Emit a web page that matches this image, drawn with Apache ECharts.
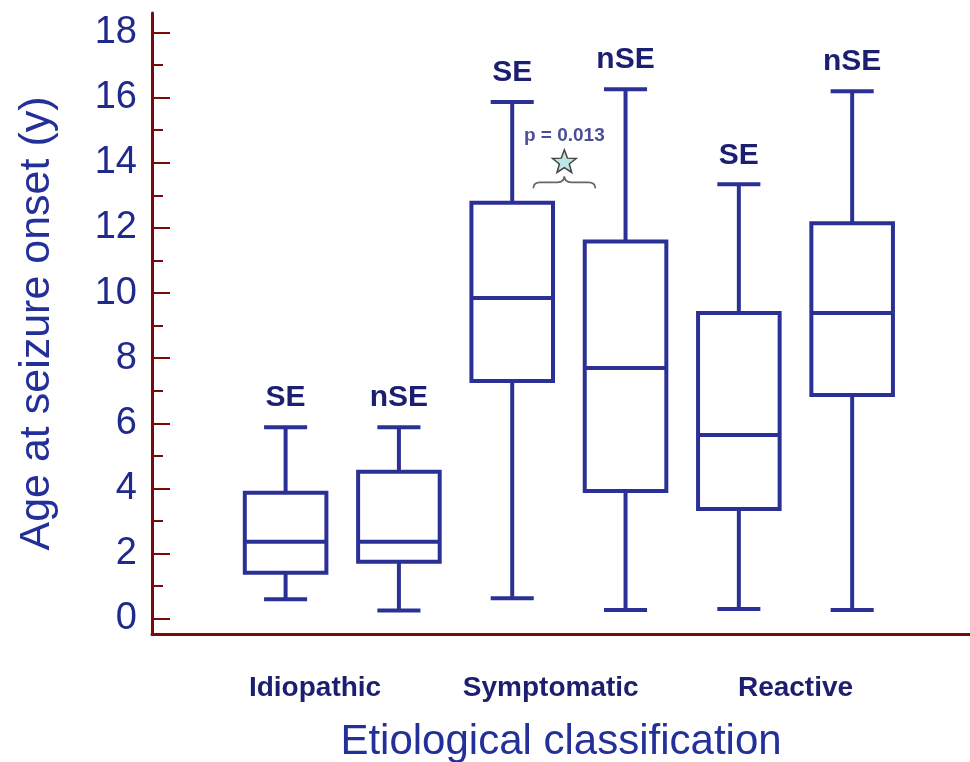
<!DOCTYPE html>
<html>
<head>
<meta charset="utf-8">
<script src="https://cdn.jsdelivr.net/npm/echarts@6/dist/echarts.min.js"></script>
<style>
  html, body { margin: 0; padding: 0; background: #fff; }
  #chart { width: 970px; height: 762px; }
</style>
</head>
<body>
<div id="chart"></div>
<script>
// data
const groups = ['Idiopathic', 'Symptomatic', 'Reactive'];
const groupLabelPos = [0.26, 2.34, 4.5];
const boxLabels = ['SE', 'nSE', 'SE', 'nSE', 'SE', 'nSE'];
const whiskerLow = [0.6, 0.25, 0.63, 0.27, 0.3, 0.27];
const q1 = [1.41, 1.75, 7.3, 3.92, 3.37, 6.87];
const median = [2.36, 2.36, 9.85, 7.7, 5.64, 9.39];
const q3 = [3.87, 4.51, 12.77, 11.58, 9.39, 12.14];
const whiskerHigh = [5.88, 5.88, 15.87, 16.26, 13.34, 16.2];
const majorTicks = [0, 2, 4, 6, 8, 10, 12, 14, 16, 18];
const minorTicks = [1, 3, 5, 7, 9, 11, 13, 15, 17];
// significance note between Symptomatic SE / nSE
const pText = 'p = 0.013';
const notePos = [2.46, 13.4];

const boxColor = '#2b3194';
const textColor = '#1f2a8c';
const axisColor = '#7a0a0a';
const fontFam = '"Liberation Sans", Arial, sans-serif';

const chart = echarts.init(document.getElementById('chart'));

const boxData = boxLabels.map((lab, i) =>
  [i, whiskerLow[i], q1[i], median[i], q3[i], whiskerHigh[i], lab]);

function renderBox(params, api) {
  const i = api.value(0);
  const lo = api.coord([i, api.value(1)]);
  const b1 = api.coord([i, api.value(2)]);
  const md = api.coord([i, api.value(3)]);
  const b3 = api.coord([i, api.value(4)]);
  const hi = api.coord([i, api.value(5)]);
  const band = api.size([1, 0])[0];
  const bw = band * 0.72, cw = band * 0.38;
  const x = lo[0];
  const st = { stroke: boxColor, lineWidth: 4, fill: null };
  return {
    type: 'group',
    children: [
      { type: 'rect', shape: { x: x - bw / 2, y: b3[1], width: bw, height: b1[1] - b3[1] }, style: st },
      { type: 'line', shape: { x1: x - bw / 2, y1: md[1], x2: x + bw / 2, y2: md[1] }, style: st },
      { type: 'line', shape: { x1: x, y1: b3[1], x2: x, y2: hi[1] }, style: st },
      { type: 'line', shape: { x1: x - cw / 2, y1: hi[1], x2: x + cw / 2, y2: hi[1] }, style: st },
      { type: 'line', shape: { x1: x, y1: b1[1], x2: x, y2: lo[1] }, style: st },
      { type: 'line', shape: { x1: x - cw / 2, y1: lo[1], x2: x + cw / 2, y2: lo[1] }, style: st },
      {
        type: 'text',
        style: {
          text: api.value(6), x: x, y: hi[1] - 14,
          align: 'center', verticalAlign: 'bottom',
          fontSize: 30, fontWeight: 'bold', fontFamily: fontFam, fill: '#1c1f70'
        }
      }
    ]
  };
}

function renderNote(params, api) {
  const p = api.coord([api.value(0), api.value(1)]);
  const cx = p[0], y = p[1];
  const w = 31;
  // star
  const pts = [];
  for (let k = 0; k < 10; k++) {
    const r = k % 2 === 0 ? 12.5 : 5.2;
    const a = -Math.PI / 2 + k * Math.PI / 5;
    pts.push([cx + r * Math.cos(a), y - 20 + r * Math.sin(a)]);
  }
  const brace = 'M' + (cx - w) + ',' + (y + 6) +
    ' Q' + (cx - w) + ',' + y + ' ' + (cx - w + 7) + ',' + y +
    ' L' + (cx - 7) + ',' + y +
    ' Q' + cx + ',' + y + ' ' + cx + ',' + (y - 6) +
    ' Q' + cx + ',' + y + ' ' + (cx + 7) + ',' + y +
    ' L' + (cx + w - 7) + ',' + y +
    ' Q' + (cx + w) + ',' + y + ' ' + (cx + w) + ',' + (y + 6);
  return {
    type: 'group',
    children: [
      { type: 'path', shape: { pathData: brace }, style: { stroke: '#666', lineWidth: 1.8, fill: null } },
      { type: 'polygon', shape: { points: pts }, style: { fill: '#bfe6e6', stroke: '#444', lineWidth: 1.5 } },
      {
        type: 'text',
        style: {
          text: api.value(2), x: cx, y: y - 47,
          align: 'center', verticalAlign: 'middle',
          fontSize: 19, fontWeight: 'bold', fontFamily: fontFam, fill: '#4b4f9a'
        }
      }
    ]
  };
}

const option = {
  backgroundColor: '#ffffff',
  animation: false,
  grid: { left: 152, right: 0, top: 13, bottom: 128, outerBoundsMode: 'none' },
  xAxis: {
    type: 'value',
    min: -1.179,
    max: 6.04,
    name: 'Etiological classification',
    nameLocation: 'middle',
    nameGap: 87,
    nameTextStyle: { fontSize: 42, color: '#24309a', fontFamily: fontFam },
    axisLine: { show: true, onZero: false, lineStyle: { color: axisColor, width: 3 } },
    axisTick: { show: false },
    splitLine: { show: false },
    axisLabel: {
      customValues: groupLabelPos,
      margin: 40,
      fontSize: 28,
      fontWeight: 'bold',
      color: '#1c1f70',
      fontFamily: fontFam,
      formatter: function (v) {
        let best = 0;
        groupLabelPos.forEach((g, k) => { if (Math.abs(g - v) < Math.abs(groupLabelPos[best] - v)) best = k; });
        return groups[best];
      }
    }
  },
  yAxis: [
    {
      type: 'value',
      min: -0.47,
      max: 18.6,
      name: 'Age at seizure onset (y)',
      nameLocation: 'middle',
      nameGap: 93,
      nameTextStyle: { fontSize: 43, color: '#24309a', fontFamily: fontFam },
      axisLine: { show: true, onZero: false, lineStyle: { color: axisColor, width: 3 } },
      axisTick: { show: true, inside: true, length: 18, customValues: majorTicks, lineStyle: { color: axisColor, width: 2 } },
      axisLabel: { customValues: majorTicks, margin: 15, fontSize: 38, color: textColor, fontFamily: fontFam },
      splitLine: { show: false }
    },
    {
      type: 'value',
      min: -0.47,
      max: 18.6,
      position: 'left',
      axisLine: { show: false, onZero: false },
      axisTick: { show: true, inside: true, length: 11, customValues: minorTicks, lineStyle: { color: axisColor, width: 2 } },
      axisLabel: { show: false },
      splitLine: { show: false }
    }
  ],
  series: [
    {
      type: 'custom',
      name: 'boxes',
      renderItem: renderBox,
      data: boxData,
      encode: { x: 0, y: [1, 5] }
    },
    {
      type: 'custom',
      name: 'note',
      renderItem: renderNote,
      data: [[notePos[0], notePos[1], pText]],
      encode: { x: 0, y: 1 }
    }
  ]
};

chart.setOption(option);
</script>
</body>
</html>
